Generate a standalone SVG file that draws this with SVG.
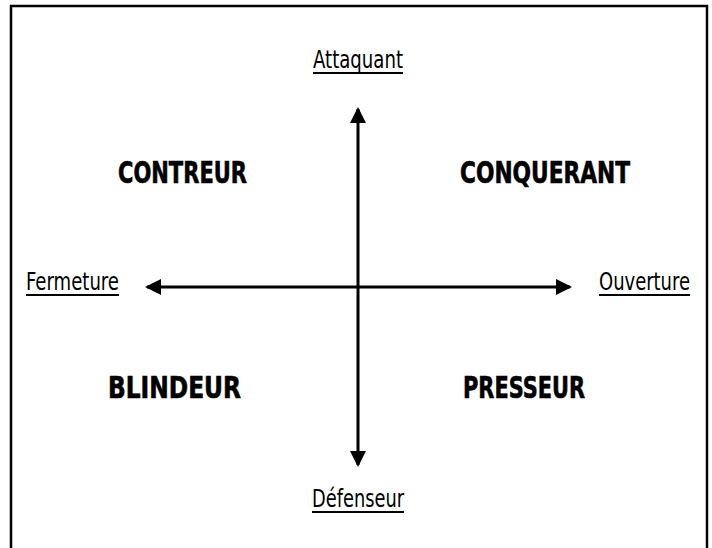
<svg xmlns="http://www.w3.org/2000/svg" width="712" height="548" viewBox="0 0 712 548">
<style>
.lbl{font-family:"DejaVu Sans Condensed","DejaVu Sans","Liberation Sans",sans-serif;font-stretch:condensed;font-size:24px;fill:#000}
.big{font-family:"DejaVu Sans Condensed","DejaVu Sans","Liberation Sans",sans-serif;font-stretch:condensed;font-weight:bold;font-size:30px;fill:#000;stroke:#000;stroke-width:0.6}
.ul{stroke:#000;stroke-width:2}
.ax{stroke:#000;stroke-width:3;fill:none}
</style>
<defs>
<marker id="ah" viewBox="0 0 16 16" refX="14" refY="8" markerWidth="16" markerHeight="16" markerUnits="userSpaceOnUse" orient="auto-start-reverse">
<path d="M0,0 L16,8 L0,16 Z" fill="#000"/>
</marker>
</defs>
<rect x="11" y="6" width="696" height="600" fill="#fff" stroke="#000" stroke-width="2.5"/>
<g id="connectors">
<line class="ax" x1="358" y1="109" x2="358" y2="465" marker-start="url(#ah)" marker-end="url(#ah)"/>
<line class="ax" x1="147" y1="287" x2="570" y2="287" marker-start="url(#ah)" marker-end="url(#ah)"/>
</g>
<g id="attaquant"><text class="lbl" x="313" y="68" textLength="90" lengthAdjust="spacingAndGlyphs">Attaquant</text><line class="ul" x1="313" y1="73" x2="403" y2="73"/></g>
<g id="defenseur"><text class="lbl" x="312" y="507" textLength="92" lengthAdjust="spacingAndGlyphs">Défenseur</text><line class="ul" x1="312" y1="512" x2="404" y2="512"/></g>
<g id="fermeture"><text class="lbl" x="26" y="290" textLength="93" lengthAdjust="spacingAndGlyphs">Fermeture</text><line class="ul" x1="26" y1="295" x2="119" y2="295"/></g>
<g id="ouverture"><text class="lbl" x="599" y="290" textLength="91" lengthAdjust="spacingAndGlyphs">Ouverture</text><line class="ul" x1="599" y1="295" x2="690" y2="295"/></g>
<g id="contreur"><text class="big" x="118" y="183" textLength="129" lengthAdjust="spacingAndGlyphs">CONTREUR</text></g>
<g id="conquerant"><text class="big" x="460" y="183" textLength="170" lengthAdjust="spacingAndGlyphs">CONQUERANT</text></g>
<g id="blindeur"><text class="big" x="108" y="398" textLength="133" lengthAdjust="spacingAndGlyphs">BLINDEUR</text></g>
<g id="presseur"><text class="big" x="463" y="398" textLength="122" lengthAdjust="spacingAndGlyphs">PRESSEUR</text></g>
</svg>
